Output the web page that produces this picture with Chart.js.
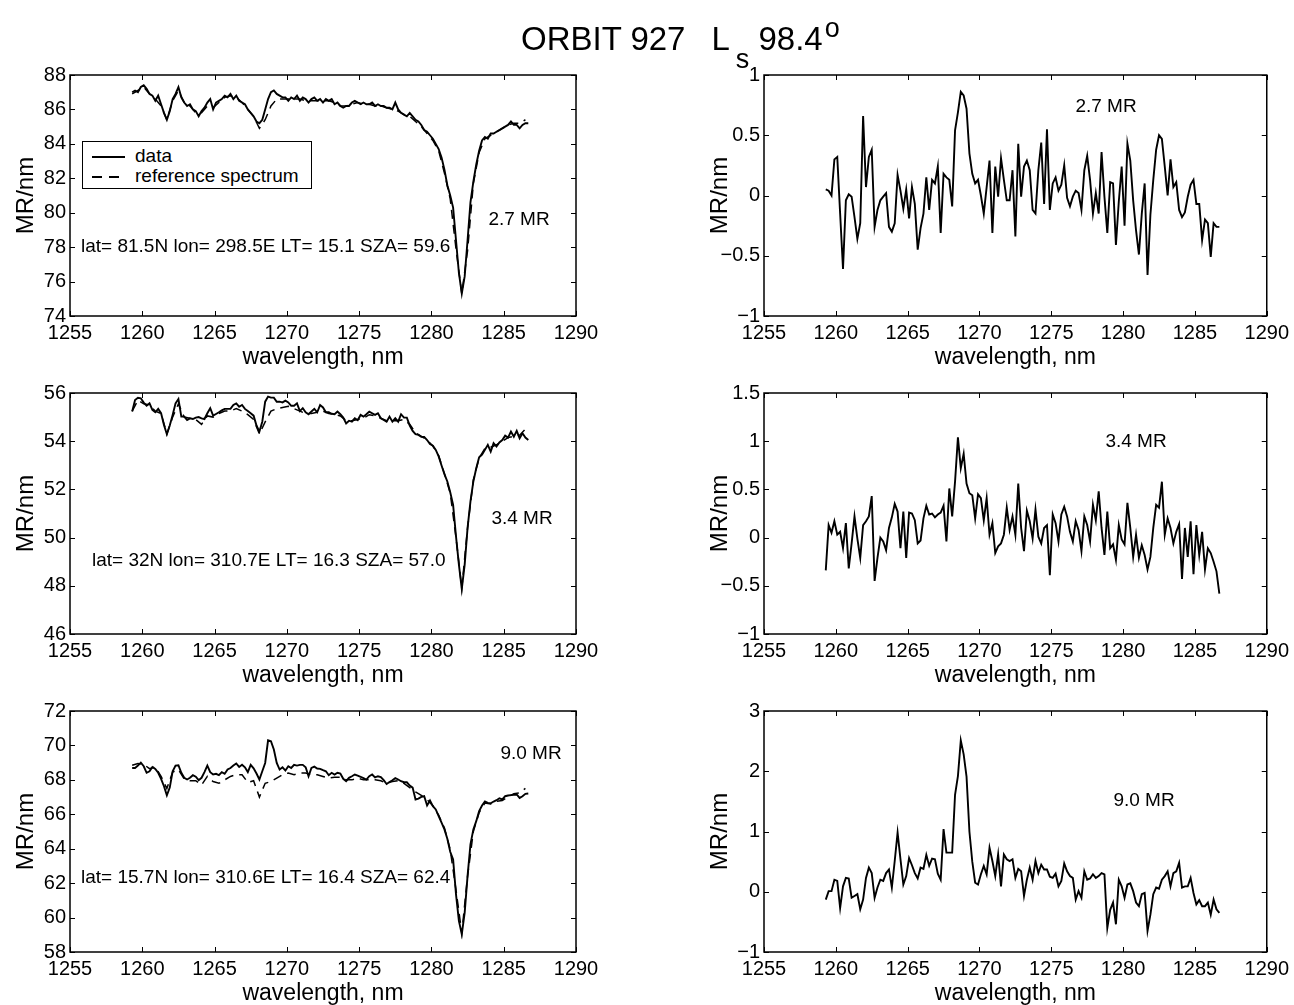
<!DOCTYPE html>
<html>
<head>
<meta charset="utf-8">
<title>ORBIT 927</title>
<script src="https://cdn.jsdelivr.net/npm/chart.js@4.4.1/dist/chart.umd.min.js"></script>
<style>
  html, body { margin: 0; padding: 0; background: #fff; overflow: hidden; }
  body { width: 1294px; height: 1005px; position: relative; font-family: "Liberation Sans", Arial, Helvetica, sans-serif; color: #000; }
  canvas { position: absolute; }
  .note { position: absolute; font-size: 19px; line-height: 1; white-space: nowrap; transform: translateY(-50%); }
  .center { transform: translate(-50%, -50%); }
  #title { position: absolute; left: 521px; top: 22px; font-size: 33px; line-height: 1; white-space: nowrap; }
  #title .sub { font-size: 27px; position: relative; top: 18px; margin-left: 6px; }
  #title .sup { font-size: 27px; position: relative; top: -13px; margin-left: 2px; }
  #legend { position: absolute; left: 82px; top: 141px; width: 228px; height: 46px; border: 1.5px solid #000; background: #fff; font-size: 19px; }
  #legend .row { position: absolute; left: 0; height: 20px; line-height: 20px; white-space: nowrap; }
  #legend .sample { position: absolute; left: 9px; top: 10px; width: 33px; height: 1.6px; background: #000; }
  #legend .dashed { background: repeating-linear-gradient(to right, #000 0 10px, transparent 10px 17px); }
  #legend .label { position: absolute; left: 52px; top: 0; }
</style>
</head>
<body>
<canvas id="tl" width="616" height="326" style="left:0px; top:50px"></canvas>
<canvas id="tr" width="600" height="326" style="left:694px; top:50px"></canvas>
<canvas id="ml" width="616" height="326" style="left:0px; top:368px"></canvas>
<canvas id="mr" width="600" height="326" style="left:694px; top:368px"></canvas>
<canvas id="bl" width="616" height="326" style="left:0px; top:686px"></canvas>
<canvas id="br" width="600" height="326" style="left:694px; top:686px"></canvas>

<div id="title">ORBIT 927<span style="margin-left:26px">L</span><span class="sub">s</span> 98.4<span class="sup">o</span></div>

<div id="legend">
  <div class="row" style="top:4px"><span class="sample"></span><span class="label">data</span></div>
  <div class="row" style="top:24px"><span class="sample dashed"></span><span class="label">reference spectrum</span></div>
</div>

<div class="note center" style="left:519px; top:218px">2.7 MR</div>
<div class="note" style="left:81px; top:245px">lat= 81.5N lon= 298.5E LT= 15.1 SZA= 59.6</div>
<div class="note center" style="left:522px; top:517px">3.4 MR</div>
<div class="note" style="left:92px; top:559px">lat= 32N lon= 310.7E LT= 16.3 SZA= 57.0</div>
<div class="note center" style="left:531px; top:752px">9.0 MR</div>
<div class="note" style="left:81px; top:876px">lat= 15.7N lon= 310.6E LT= 16.4 SZA= 62.4</div>
<div class="note center" style="left:1106px; top:105px">2.7 MR</div>
<div class="note center" style="left:1136px; top:440px">3.4 MR</div>
<div class="note center" style="left:1144px; top:799px">9.0 MR</div>

<script>
// wavelength sampling of the spectra (nm)
const waveStart = 1259.3;
const waveStep = 0.2;
const waveCount = 138;
const wavelength = Array.from({ length: waveCount }, (_, i) => +(waveStart + waveStep * i).toFixed(1));
// reference spectrum read at every other sample
const refWavelength = wavelength.filter((_, i) => i % 2 === 0);

// orbit 927, 2.7 MR
const tlData = [
  87.0, 87.1, 87.0, 87.3, 87.4, 87.2, 86.9, 86.8, 86.5, 86.8,
  86.3, 85.8, 85.4, 85.9, 86.6, 86.9, 87.3, 86.7, 86.4, 86.2,
  86.3, 86.0, 85.9, 85.6, 85.9, 86.1, 86.4, 86.6, 86.0, 86.4,
  86.5, 86.6, 86.8, 86.7, 86.9, 86.6, 86.8, 86.5, 86.4, 86.3,
  86.0, 85.8, 85.6, 85.3, 85.2, 85.4, 86.0, 86.6, 87.0, 87.1,
  86.9, 86.8, 86.7, 86.7, 86.5, 86.7, 86.6, 86.8, 86.5, 86.7,
  86.6, 86.4, 86.6, 86.7, 86.5, 86.6, 86.4, 86.6, 86.5, 86.6,
  86.3, 86.4, 86.2, 86.1, 86.2, 86.2, 86.4, 86.5, 86.4, 86.3,
  86.4, 86.3, 86.3, 86.4, 86.2, 86.3, 86.2, 86.2, 86.1, 86.1,
  86.0, 86.4, 86.0, 85.8, 85.7, 85.6, 85.8, 85.6, 85.4, 85.3,
  85.1, 84.8, 84.7, 84.5, 84.3, 84.0, 83.7, 83.2, 82.5, 81.6,
  81.0, 80.3, 78.4, 76.5, 75.3, 76.3, 78.4, 80.6, 81.8, 82.8,
  83.6, 84.2, 84.4, 84.3, 84.6, 84.6, 84.7, 84.8, 84.9, 85.0,
  85.1, 85.3, 85.1, 85.1, 84.9, 85.1, 85.2, 85.2
];
const tlRef = [
  86.9, 87.1, 87.3, 86.9, 86.6, 86.2, 85.4, 86.5, 87.1, 86.4,
  86.2, 85.8, 85.8, 86.2, 86.1, 86.4, 86.7, 86.8, 86.7, 86.4,
  86.0, 85.6, 84.9, 85.4, 86.2, 86.6, 86.6, 86.6, 86.6, 86.6,
  86.5, 86.5, 86.5, 86.5, 86.5, 86.4, 86.2, 86.2, 86.3, 86.4,
  86.3, 86.3, 86.2, 86.2, 86.1, 86.0, 85.9, 85.7, 85.6, 85.3,
  85.0, 84.6, 84.2, 83.6, 82.3, 80.8, 77.9, 75.3, 77.8, 81.7,
  83.5, 84.3, 84.5, 84.7, 84.9, 85.1, 85.2, 85.2, 85.4
];
const trResid = [
  0.05, 0.04, 0.00, 0.30, 0.32, -0.15, -0.61, -0.04, 0.01, -0.01,
  -0.18, -0.36, -0.23, 0.66, 0.07, 0.32, 0.38, -0.26, -0.12, -0.04,
  -0.01, 0.02, -0.26, -0.30, -0.23, 0.17, 0.04, -0.11, 0.05, -0.19,
  0.07, -0.07, -0.45, -0.27, -0.15, 0.15, -0.12, 0.13, 0.10, 0.24,
  -0.31, 0.18, 0.15, 0.13, -0.09, 0.54, 0.69, 0.86, 0.83, 0.72,
  0.35, 0.18, 0.10, 0.13, 0.00, -0.15, 0.07, 0.29, -0.31, 0.24,
  -0.01, 0.31, 0.13, -0.04, -0.04, 0.21, -0.34, 0.43, -0.01, 0.24,
  0.29, 0.21, -0.12, -0.15, 0.21, 0.44, -0.07, 0.55, -0.12, 0.10,
  0.15, 0.04, 0.09, 0.25, -0.02, -0.09, -0.01, 0.04, 0.02, -0.12,
  0.21, 0.33, 0.13, -0.15, 0.02, -0.15, 0.36, -0.01, -0.31, 0.11,
  0.10, -0.41, -0.05, 0.24, -0.25, 0.43, 0.29, -0.04, -0.29, -0.49,
  -0.15, 0.10, -0.66, -0.16, 0.13, 0.38, 0.50, 0.47, 0.24, 0.00,
  0.30, 0.07, 0.11, -0.12, -0.18, -0.14, -0.01, 0.09, 0.13, -0.07,
  -0.07, -0.37, -0.20, -0.23, -0.51, -0.23, -0.26, -0.26
];

// 3.4 MR
const mlData = [
  55.23, 55.71, 55.80, 55.78, 55.60, 55.47, 55.57, 55.30, 55.20, 55.34,
  55.16, 54.67, 54.29, 54.65, 55.09, 55.57, 55.75, 55.02, 55.02, 54.88,
  54.95, 54.92, 54.98, 55.00, 54.95, 54.92, 55.16, 55.37, 55.06, 55.13,
  55.20, 55.28, 55.34, 55.34, 55.34, 55.50, 55.57, 55.43, 55.50, 55.34,
  55.25, 55.16, 55.06, 54.65, 54.40, 54.81, 55.64, 55.85, 55.81, 55.81,
  55.64, 55.64, 55.61, 55.68, 55.61, 55.47, 55.47, 55.57, 55.25, 55.37,
  55.20, 55.12, 55.23, 55.34, 55.20, 55.50, 55.40, 55.20, 55.20, 55.14,
  55.12, 55.23, 55.12, 54.98, 54.74, 54.85, 54.81, 54.95, 54.87, 55.09,
  55.02, 55.12, 55.23, 55.16, 55.09, 55.16, 54.95, 54.88, 54.81, 55.02,
  54.81, 54.95, 54.81, 55.12, 54.98, 54.98, 54.65, 54.43, 54.29, 54.26,
  54.18, 54.18, 54.05, 53.88, 53.81, 53.64, 53.37, 52.99, 52.63, 52.33,
  51.88, 51.36, 50.05, 48.88, 47.87, 48.88, 50.40, 51.50, 52.33, 52.88,
  53.33, 53.44, 53.64, 53.85, 53.57, 53.92, 53.78, 53.95, 54.05, 54.23,
  54.15, 54.40, 54.19, 54.43, 54.12, 54.33, 54.15, 54.05
];
const mlRef = [
  55.25, 55.70, 55.55, 55.50, 55.25, 55.15, 54.30, 55.00, 55.55, 55.00,
  54.95, 54.90, 54.70, 55.05, 55.00, 55.15, 55.25, 55.25, 55.35, 55.25,
  55.10, 54.90, 54.30, 54.80, 55.25, 55.35, 55.40, 55.45, 55.35, 55.25,
  55.15, 55.15, 55.20, 55.25, 55.15, 55.10, 55.05, 54.85, 54.85, 54.90,
  54.95, 55.10, 55.05, 54.95, 54.85, 54.85, 54.85, 54.90, 54.70, 54.35,
  54.20, 54.05, 53.80, 53.40, 52.65, 51.85, 50.00, 47.90, 50.40, 52.40,
  53.30, 53.70, 53.75, 53.85, 54.00, 54.15, 54.20, 54.25, 54.50
];
const mrResid = [
  -0.34, 0.13, 0.05, 0.17, 0.03, 0.06, -0.11, 0.15, -0.32, -0.06,
  0.22, -0.01, -0.21, 0.13, 0.17, 0.22, 0.43, -0.45, -0.21, 0.00,
  -0.04, -0.13, 0.10, 0.21, 0.35, 0.27, -0.11, 0.27, -0.21, 0.26,
  0.25, 0.18, -0.06, -0.03, 0.20, 0.33, 0.24, 0.25, 0.21, 0.24,
  0.26, 0.33, -0.04, 0.51, 0.22, 0.58, 1.04, 0.72, 0.87, 0.56,
  0.46, 0.44, 0.20, 0.45, 0.41, 0.18, 0.41, 0.03, 0.15, -0.16,
  -0.09, -0.06, 0.03, 0.31, 0.08, 0.22, 0.03, 0.56, 0.10, -0.14,
  0.28, 0.17, -0.01, 0.29, 0.01, -0.06, 0.10, 0.13, -0.39, 0.24,
  0.15, -0.04, 0.24, 0.32, 0.22, 0.06, -0.04, 0.17, 0.08, -0.14,
  0.22, 0.13, -0.04, 0.34, 0.18, 0.48, 0.10, -0.18, 0.27, -0.11,
  -0.07, -0.23, 0.13, -0.02, -0.07, 0.36, 0.10, -0.20, 0.03, -0.21,
  -0.08, -0.18, -0.33, -0.20, 0.10, 0.34, 0.31, 0.58, 0.03, 0.20,
  0.10, -0.06, 0.06, 0.14, -0.43, 0.10, -0.20, 0.17, -0.38, 0.13,
  -0.18, 0.06, -0.33, -0.11, -0.16, -0.25, -0.35, -0.58
];

// 9.0 MR
const blData = [
  68.69, 68.69, 68.83, 69.00, 68.79, 68.41, 68.50, 68.75, 68.64, 68.41,
  68.06, 67.63, 67.10, 67.55, 68.50, 68.83, 68.85, 68.41, 68.12, 68.02,
  68.12, 68.27, 68.18, 67.98, 68.12, 68.45, 68.83, 68.45, 68.31, 68.35,
  68.27, 68.45, 68.35, 68.60, 68.69, 68.83, 68.95, 68.75, 68.88, 68.73,
  68.45, 68.87, 68.67, 68.37, 68.02, 68.50, 68.98, 70.30, 70.24, 69.76,
  68.98, 68.60, 68.73, 68.54, 68.79, 68.69, 68.87, 68.83, 68.87, 68.87,
  68.73, 68.21, 68.69, 68.77, 68.66, 68.64, 68.56, 68.50, 68.27, 68.41,
  68.31, 68.41, 68.37, 68.06, 67.92, 68.12, 68.21, 68.31, 68.25, 68.18,
  68.10, 68.02, 68.21, 68.31, 68.14, 68.21, 68.16, 67.98, 67.76, 67.88,
  67.98, 68.10, 68.02, 67.92, 67.86, 67.86, 67.67, 67.55, 66.86, 66.91,
  67.01, 67.05, 66.51, 66.80, 66.47, 66.28, 65.89, 65.51, 65.12, 64.58,
  63.82, 63.38, 61.35, 59.81, 59.03, 60.29, 62.42, 64.25, 65.12, 65.60,
  66.18, 66.51, 66.74, 66.66, 66.64, 66.74, 66.82, 66.93, 66.86, 67.05,
  67.09, 67.11, 67.13, 67.15, 66.95, 67.05, 67.19, 67.21
];
const blRef = [
  68.85, 68.95, 68.90, 68.65, 68.75, 68.20, 67.50, 68.45, 68.60, 68.05,
  67.95, 67.95, 67.70, 68.20, 67.90, 67.80, 68.00, 68.20, 68.30, 68.30,
  67.85, 67.95, 67.00, 67.80, 67.90, 68.10, 68.30, 68.40, 68.30, 68.40,
  68.40, 68.30, 68.30, 68.20, 68.10, 68.15, 68.15, 68.00, 68.00, 68.10,
  68.00, 68.00, 68.00, 67.95, 67.80, 67.90, 67.95, 67.80, 67.55, 67.30,
  67.10, 66.85, 66.50, 65.95, 65.20, 63.95, 61.60, 59.10, 62.40, 65.00,
  66.10, 66.65, 66.60, 66.75, 66.80, 67.00, 67.20, 67.25, 67.50
];
const brResid = [
  -0.13, 0.01, 0.01, 0.20, 0.18, -0.27, 0.09, 0.23, 0.22, -0.10,
  -0.07, -0.04, -0.29, -0.13, 0.23, 0.40, 0.31, -0.10, 0.07, 0.20,
  0.18, 0.31, 0.37, 0.07, 0.51, 0.98, 0.54, 0.12, 0.26, 0.56,
  0.44, 0.31, 0.22, 0.40, 0.38, 0.61, 0.43, 0.55, 0.54, 0.30,
  0.20, 1.04, 0.65, 0.65, 0.65, 1.61, 1.92, 2.51, 2.28, 1.91,
  1.00, 0.50, 0.15, 0.12, 0.29, 0.43, 0.29, 0.73, 0.51, 0.26,
  0.62, 0.09, 0.62, 0.54, 0.51, 0.54, 0.23, 0.38, 0.34, -0.07,
  0.20, 0.40, 0.20, 0.51, 0.31, 0.45, 0.37, 0.37, 0.25, 0.23,
  0.30, 0.09, 0.18, 0.47, 0.34, 0.26, 0.23, -0.13, 0.01, -0.10,
  0.34, 0.20, 0.22, 0.29, 0.23, 0.26, 0.31, 0.29, -0.60, -0.30,
  -0.18, -0.54, 0.20, 0.09, -0.10, 0.12, 0.14, 0.01, -0.18, -0.24,
  -0.04, -0.02, -0.65, -0.38, -0.04, 0.07, 0.05, 0.20, 0.26, 0.34,
  0.09, 0.31, 0.34, 0.48, 0.07, 0.09, 0.09, 0.23, -0.02, -0.21,
  -0.14, -0.24, -0.24, -0.18, -0.38, -0.13, -0.29, -0.35
];

const fontFamily = "'Liberation Sans', Arial, Helvetica, sans-serif";

// closed axes box with inward ticks on all four sides
const boxTicks = {
  id: 'boxTicks',
  afterDatasetsDraw(chart) {
    const { ctx, chartArea: a, scales: { x, y } } = chart;
    const len = 5;
    ctx.save();
    ctx.strokeStyle = '#000';
    ctx.lineWidth = 1.5;
    ctx.strokeRect(a.left, a.top, a.right - a.left, a.bottom - a.top);
    ctx.beginPath();
    x.ticks.forEach(t => {
      const px = Math.round(x.getPixelForValue(t.value)) + 0.5;
      ctx.moveTo(px, a.bottom); ctx.lineTo(px, a.bottom - len);
      ctx.moveTo(px, a.top); ctx.lineTo(px, a.top + len);
    });
    y.ticks.forEach(t => {
      const py = Math.round(y.getPixelForValue(t.value)) + 0.5;
      ctx.moveTo(a.left, py); ctx.lineTo(a.left + len, py);
      ctx.moveTo(a.right, py); ctx.lineTo(a.right - len, py);
    });
    ctx.lineWidth = 1;
    ctx.stroke();
    ctx.restore();
  }
};

function pairs(xs, ys) {
  return ys.map((v, i) => ({ x: xs[i], y: v }));
}

function tickText(v) {
  const r = Math.round(v * 10) / 10;
  return r < 0 ? '\u2212' + String(-r) : String(r);
}

function panelOptions(yMin, yMax, yStep, rightPad) {
  const tickFont = { family: fontFamily, size: 20 };
  return {
    responsive: false,
    animation: false,
    layout: { padding: { top: 25, right: rightPad, left: 0, bottom: 0 } },
    plugins: { legend: { display: false }, tooltip: { enabled: false } },
    scales: {
      x: {
        type: 'linear', min: 1255, max: 1290,
        grid: { display: false, drawTicks: false },
        border: { display: false },
        ticks: { stepSize: 5, padding: 5, color: '#000', font: tickFont, maxRotation: 0, autoSkip: false,
                 callback: v => String(v) },
        title: { display: true, text: 'wavelength, nm', color: '#000', font: { family: fontFamily, size: 23 },
                 padding: { top: 0, bottom: 5 } },
        afterFit: s => { s.height = 60; }
      },
      y: {
        min: yMin, max: yMax,
        grid: { display: false, drawTicks: false },
        border: { display: false },
        ticks: { stepSize: yStep, padding: 4, color: '#000', font: tickFont, callback: tickText },
        title: { display: true, text: 'MR/nm', color: '#000', font: { family: fontFamily, size: 24 },
                 padding: { top: 12, bottom: 0 } },
        afterFit: s => { s.width = 70; }
      }
    }
  };
}

function spectrumPanel(id, yMin, yMax, yStep, data, ref) {
  const datasets = [{
    data: pairs(wavelength, data),
    borderColor: '#000', borderWidth: 1.9, pointRadius: 0, tension: 0
  }];
  if (ref) {
    datasets.push({
      data: pairs(refWavelength, ref),
      borderColor: '#000', borderWidth: 1.5, borderDash: [9, 6], pointRadius: 0, tension: 0
    });
  }
  const rightPad = id.charAt(1) === 'l' ? 40 : 24;
  return new Chart(document.getElementById(id).getContext('2d'), {
    type: 'line',
    data: { datasets },
    options: panelOptions(yMin, yMax, yStep, rightPad),
    plugins: [boxTicks]
  });
}

spectrumPanel('tl', 74, 88, 2, tlData, tlRef);
spectrumPanel('tr', -1, 1, 0.5, trResid);
spectrumPanel('ml', 46, 56, 2, mlData, mlRef);
spectrumPanel('mr', -1, 1.5, 0.5, mrResid);
spectrumPanel('bl', 58, 72, 2, blData, blRef);
spectrumPanel('br', -1, 3, 1, brResid);
</script>
</body>
</html>
